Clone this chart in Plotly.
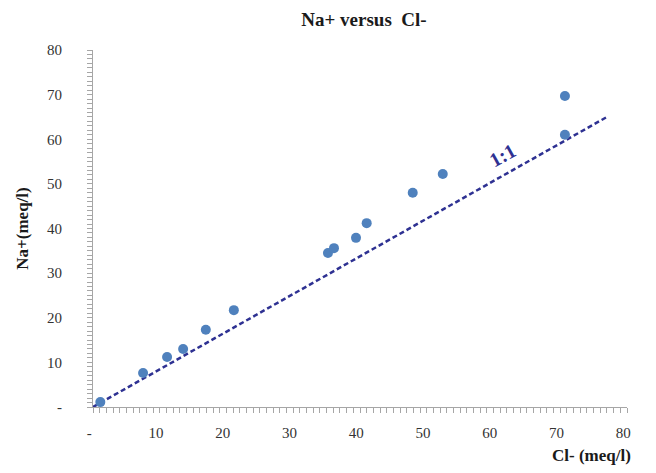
import plotly.graph_objects as go

# Data
cl_meq = [1.1, 7.5, 11.1, 13.5, 16.9, 21.1, 35.2, 36.1, 39.4, 41.0, 47.9, 52.4, 70.7, 70.7]
na_meq = [1.1, 7.6, 11.2, 13.0, 17.3, 21.7, 34.5, 35.6, 37.9, 41.2, 48.0, 52.2, 61.0, 69.7]
ref_line_x = [0, 77]
ref_line_y = [0, 65]
tick_vals = [0, 10, 20, 30, 40, 50, 60, 70, 80]
tick_text = ["-", "10", "20", "30", "40", "50", "60", "70", "80"]

SERIF = "Liberation Serif, Times New Roman, serif"
AXIS_COLOR = "#A6A6A6"
NAVY = "#2E3192"

fig = go.Figure()
fig.add_trace(go.Scatter(
    x=ref_line_x, y=ref_line_y, mode="lines",
    line=dict(color=NAVY, width=2.5, dash="5px,3px"),
    hoverinfo="skip", showlegend=False,
))
fig.add_trace(go.Scatter(
    x=cl_meq, y=na_meq, mode="markers",
    marker=dict(color="#4F81BD", size=10),
    cliponaxis=False, showlegend=False,
))

fig.add_annotation(
    x=61.4, y=56.5, xref="x", yref="y", text="<b>1:1</b>", showarrow=False,
    textangle=-29, font=dict(family=SERIF, size=20, color=NAVY),
)
fig.add_annotation(
    x=1.012, y=-(455 - 407) / 357, xref="paper", yref="paper",
    xanchor="right", yanchor="middle", showarrow=False,
    text="<b>Cl- (meq/l)</b>", font=dict(family=SERIF, size=17, color="#1a1a1a"),
)

pad = "\u00a0\u00a0"
fig.update_layout(
    width=656, height=473,
    margin=dict(l=93, r=29, t=50, b=66, autoexpand=False),
    paper_bgcolor="white", plot_bgcolor="white",
    title=dict(
        text="<b>Na+ versus  Cl-</b>", x=364 / 656, xanchor="center",
        y=1 - 19 / 473, yanchor="middle", xref="container", yref="container",
        font=dict(family=SERIF, size=19, color="#1a1a1a"),
    ),
    xaxis=dict(
        range=[0, 80], showgrid=False, zeroline=False,
        showline=True, linecolor=AXIS_COLOR, linewidth=1,
        ticks="outside", ticklen=5, tickcolor=AXIS_COLOR,
        tickvals=tick_vals, ticktext=[t + pad for t in tick_text],
        tickfont=dict(family=SERIF, size=15, color="#333333"),
        ticklabelstandoff=7,
        minor=dict(dtick=1, tick0=0, ticks="outside", ticklen=5, tickcolor=AXIS_COLOR, showgrid=False),
    ),
    yaxis=dict(
        range=[0, 80], showgrid=False, zeroline=False,
        showline=True, linecolor=AXIS_COLOR, linewidth=1,
        ticks="outside", ticklen=5, tickcolor=AXIS_COLOR,
        tickvals=tick_vals, ticktext=tick_text,
        tickfont=dict(family=SERIF, size=15, color="#333333"),
        ticklabelstandoff=22,
        minor=dict(dtick=1, tick0=0, ticks="outside", ticklen=5, tickcolor=AXIS_COLOR, showgrid=False),
        title=dict(text="<b>Na+(meq/l)</b>", standoff=14,
                   font=dict(family=SERIF, size=17, color="#1a1a1a")),
    ),
)

fig.write_html("out.html")
